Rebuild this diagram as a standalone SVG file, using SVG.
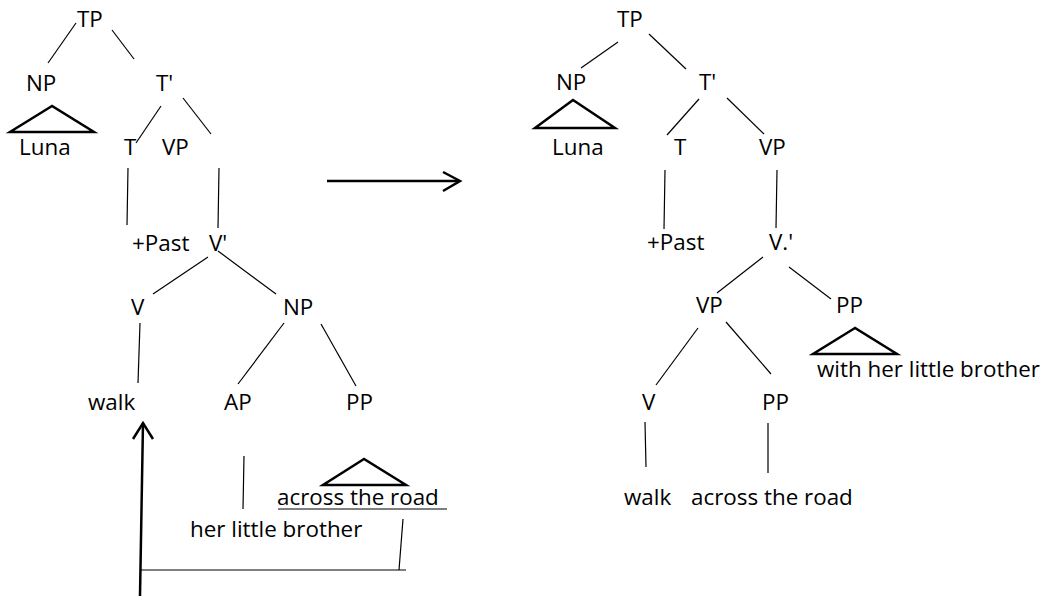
<svg xmlns="http://www.w3.org/2000/svg" width="1044" height="596" viewBox="0 0 1044 596">
<style>
text{font-family:"Open Sans","Noto Sans","DejaVu Sans",sans-serif;font-size:22.4px;fill:#000}
.e{stroke:#000;stroke-width:1.2;fill:none}
.tri{stroke:#000;stroke-width:2.5;fill:none;stroke-linejoin:miter}
.thick{stroke:#000;stroke-width:2.5;fill:none}
</style>
<rect width="1044" height="596" fill="#fff"/>
<g id="connectors">
<line class="e" x1="76" y1="23" x2="48" y2="63"/>
<line class="e" x1="112" y1="30" x2="134" y2="59"/>
<line class="e" x1="161" y1="106" x2="136" y2="143"/>
<line class="e" x1="183" y1="98" x2="211" y2="134"/>
<line class="e" x1="128" y1="168" x2="127" y2="225"/>
<line class="e" x1="219" y1="168" x2="218" y2="228"/>
<line class="e" x1="208" y1="257" x2="153" y2="294"/>
<line class="e" x1="218" y1="251" x2="276" y2="294"/>
<line class="e" x1="140" y1="323" x2="138" y2="383"/>
<line class="e" x1="284" y1="323" x2="238" y2="384"/>
<line class="e" x1="321" y1="324" x2="356" y2="386"/>
<line class="e" x1="244" y1="456" x2="243" y2="509"/>
<line class="e" x1="403" y1="519" x2="399" y2="570"/>
<line class="e" x1="140" y1="570" x2="406" y2="570"/>
<line class="e" x1="278" y1="509" x2="447" y2="509" stroke-width="1.8"/>
<line class="thick" x1="140" y1="596" x2="143" y2="423"/>
<polyline class="thick" points="133,439 143,423 153,439"/>
<line class="thick" x1="327" y1="181" x2="459" y2="181"/>
<polyline class="thick" points="443,172 460,181 443,191"/>
<line class="e" x1="618" y1="42" x2="581" y2="68"/>
<line class="e" x1="649" y1="34" x2="686" y2="69"/>
<line class="e" x1="699" y1="99" x2="667" y2="135"/>
<line class="e" x1="727" y1="98" x2="764" y2="134"/>
<line class="e" x1="665" y1="170" x2="664" y2="229"/>
<line class="e" x1="777" y1="170" x2="776" y2="228"/>
<line class="e" x1="763" y1="257" x2="717" y2="293"/>
<line class="e" x1="789" y1="267" x2="831" y2="299"/>
<line class="e" x1="698" y1="328" x2="656" y2="385"/>
<line class="e" x1="726" y1="322" x2="771" y2="374"/>
<line class="e" x1="645" y1="422" x2="646" y2="467"/>
<line class="e" x1="768" y1="423" x2="768" y2="473"/>
</g>
<g id="L-TP"><text x="77" y="27">TP</text></g>
<g id="L-NP"><text x="26" y="91">NP</text></g>
<g id="L-Luna"><polygon class="tri" points="52,106 10,132 94,132"/><text x="19" y="155">Luna</text></g>
<g id="L-Tbar"><text x="156" y="91">T'</text></g>
<g id="L-T"><text x="124" y="155">T</text></g>
<g id="L-VP"><text x="162" y="155">VP</text></g>
<g id="L-Past"><text x="132" y="251">+Past</text></g>
<g id="L-Vbar"><text x="209" y="251">V'</text></g>
<g id="L-V"><text x="131" y="315">V</text></g>
<g id="L-NP2"><text x="283" y="315">NP</text></g>
<g id="L-walk"><text x="88" y="410">walk</text></g>
<g id="L-AP"><text x="224" y="410">AP</text></g>
<g id="L-PP"><text x="346" y="410">PP</text></g>
<g id="L-across"><polygon class="tri" points="364,459 323,485 406,485"/><text x="277" y="505">across the road</text></g>
<g id="L-brother"><text x="190" y="537">her little brother</text></g>
<g id="R-TP"><text x="617" y="27">TP</text></g>
<g id="R-NP"><text x="556" y="90">NP</text></g>
<g id="R-Luna"><polygon class="tri" points="573,100 535,128 615,128"/><text x="552" y="155">Luna</text></g>
<g id="R-Tbar"><text x="699" y="90">T'</text></g>
<g id="R-T"><text x="674" y="155">T</text></g>
<g id="R-VP"><text x="759" y="155">VP</text></g>
<g id="R-Past"><text x="647" y="250">+Past</text></g>
<g id="R-Vbar"><text x="769" y="250">V.'</text></g>
<g id="R-VP2"><text x="696" y="313">VP</text></g>
<g id="R-PP"><text x="836" y="313">PP</text></g>
<g id="R-with"><polygon class="tri" points="855,328 813,354 897,354"/><text x="817" y="377">with her little brother</text></g>
<g id="R-V"><text x="642" y="410">V</text></g>
<g id="R-PP2"><text x="762" y="410">PP</text></g>
<g id="R-walk"><text x="624" y="505">walk</text></g>
<g id="R-across"><text x="691" y="505">across the road</text></g>
</svg>
